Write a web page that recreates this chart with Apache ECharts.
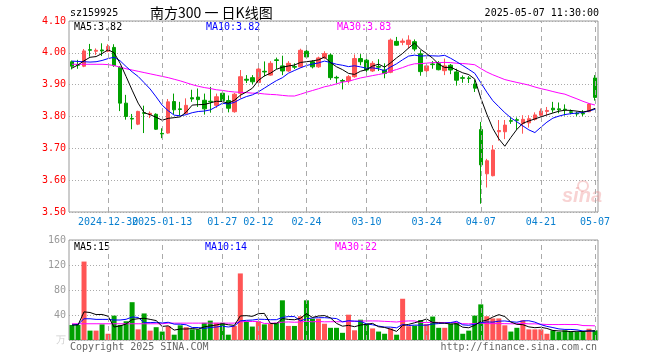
<!DOCTYPE html>
<html><head><meta charset="utf-8">
<script src="https://cdn.jsdelivr.net/npm/echarts@6/dist/echarts.min.js"></script>
<style>html,body{margin:0;padding:0;background:#fff}#c{width:660px;height:360px}</style>
</head><body><div id="c"></div>
<script>
const dates = ['2024-12-20','2024-12-23','2024-12-24','2024-12-25','2024-12-26','2024-12-27','2024-12-30','2024-12-31','2025-01-02','2025-01-03','2025-01-06','2025-01-07','2025-01-08','2025-01-09','2025-01-10','2025-01-13','2025-01-14','2025-01-15','2025-01-16','2025-01-17','2025-01-20','2025-01-21','2025-01-22','2025-01-23','2025-01-24','2025-01-27','2025-02-05','2025-02-06','2025-02-07','2025-02-10','2025-02-11','2025-02-12','2025-02-13','2025-02-14','2025-02-17','2025-02-18','2025-02-19','2025-02-20','2025-02-21','2025-02-24','2025-02-25','2025-02-26','2025-02-27','2025-02-28','2025-03-03','2025-03-04','2025-03-05','2025-03-06','2025-03-07','2025-03-10','2025-03-11','2025-03-12','2025-03-13','2025-03-14','2025-03-17','2025-03-18','2025-03-19','2025-03-20','2025-03-21','2025-03-24','2025-03-25','2025-03-26','2025-03-27','2025-03-28','2025-03-31','2025-04-01','2025-04-02','2025-04-03','2025-04-07','2025-04-08','2025-04-09','2025-04-10','2025-04-11','2025-04-14','2025-04-15','2025-04-16','2025-04-17','2025-04-18','2025-04-21','2025-04-22','2025-04-23','2025-04-24','2025-04-25','2025-04-28','2025-04-29','2025-04-30','2025-05-06','2025-05-07'];
const openP  = [3.972,3.963,3.958,4.010,4.005,4.009,4.005,4.017,3.955,3.842,3.794,3.776,3.812,3.806,3.807,3.747,3.748,3.847,3.824,3.810,3.859,3.861,3.851,3.848,3.835,3.873,3.850,3.815,3.873,3.917,3.922,3.907,3.942,3.930,3.978,3.959,3.943,3.957,3.956,4.005,3.972,3.956,3.984,3.993,3.923,3.913,3.912,3.925,3.982,3.977,3.943,3.957,3.946,3.939,4.036,4.033,4.026,4.035,3.997,3.944,3.965,3.966,3.944,3.961,3.940,3.922,3.921,3.902,3.759,3.620,3.614,3.752,3.752,3.787,3.790,3.778,3.780,3.791,3.804,3.816,3.826,3.824,3.823,3.815,3.810,3.810,3.815,3.921];
const closeP = [3.958,3.961,4.006,4.008,4.008,4.006,4.020,3.960,3.842,3.800,3.792,3.816,3.810,3.810,3.760,3.745,3.846,3.821,3.822,3.835,3.855,3.853,3.824,3.846,3.862,3.850,3.826,3.870,3.925,3.914,3.909,3.949,3.940,3.967,3.976,3.943,3.967,3.955,4.008,3.987,3.956,3.984,3.998,3.922,3.921,3.911,3.925,3.982,3.972,3.946,3.967,3.955,3.935,4.040,4.024,4.037,4.040,4.012,3.941,3.959,3.963,3.947,3.959,3.946,3.914,3.920,3.919,3.889,3.648,3.661,3.695,3.756,3.773,3.785,3.788,3.791,3.793,3.805,3.817,3.819,3.821,3.821,3.821,3.813,3.808,3.808,3.839,3.860];
const lowP   = [3.948,3.950,3.955,3.988,3.993,3.990,4.002,3.956,3.817,3.790,3.760,3.773,3.748,3.795,3.758,3.732,3.746,3.807,3.803,3.808,3.846,3.830,3.806,3.812,3.827,3.838,3.813,3.812,3.857,3.905,3.901,3.894,3.926,3.928,3.949,3.930,3.940,3.949,3.953,3.982,3.951,3.953,3.980,3.915,3.904,3.885,3.904,3.922,3.961,3.940,3.940,3.943,3.920,3.936,4.022,4.024,4.013,4.005,3.928,3.935,3.950,3.945,3.930,3.933,3.897,3.906,3.905,3.877,3.526,3.577,3.612,3.724,3.729,3.777,3.758,3.746,3.765,3.787,3.802,3.803,3.812,3.810,3.803,3.807,3.801,3.801,3.814,3.850];
const highP  = [3.976,3.978,4.012,4.028,4.014,4.030,4.027,4.027,3.958,3.868,3.808,3.818,3.834,3.816,3.810,3.763,3.855,3.872,3.846,3.857,3.884,3.888,3.872,3.893,3.872,3.880,3.866,3.874,3.946,3.930,3.930,3.957,3.973,3.974,3.985,3.991,3.974,3.967,4.013,4.019,3.977,3.988,4.005,3.998,3.928,3.918,3.930,3.995,3.996,3.982,3.974,3.980,3.967,4.045,4.050,4.045,4.055,4.042,4.008,3.968,3.974,3.974,3.982,3.965,3.950,3.929,3.927,3.915,3.783,3.667,3.710,3.789,3.789,3.797,3.797,3.804,3.804,3.813,3.825,3.830,3.846,3.844,3.838,3.822,3.815,3.820,3.842,3.930];
const volume = [24,24,125.5,15,15,25,10,39,24,30,60.5,17,42.5,15,20.5,13.5,22,8.5,23.5,20.5,17,17,27.5,31,27.5,27.5,8.5,22.5,106.5,30,21.5,30,25,26,27.5,63.5,22.5,22.5,38,63.5,34,34,26,19.5,19.5,11.5,40.5,15.5,32.5,26,18.5,13.5,10,18.5,8.5,66,22,23,32,25.5,37.5,19.5,19.5,26,27.5,10,15,39,57,38,34.5,34.5,23.5,13.5,19.5,31.5,17,17,17,10,15.5,13,15.5,13,13,13,18,15.5];
// moving-average values before enough history is visible
const priceMa5Head  = [3.952,3.962,3.975,3.986];
const priceMa10Head = [3.974,3.973,3.972,3.971,3.972,3.976,3.982,3.986,3.975];
const priceMa30Head = [3.964,3.964,3.964,3.964,3.964,3.964,3.963,3.960,3.955,3.950,3.946,3.942,3.938,3.934,3.930,3.926,3.922,3.917,3.912,3.906,3.900,3.895,3.891,3.888,3.884,3.882,3.879,3.877,3.876];
const volMa5Head  = [24,24,45,44];
const volMa10Head = [24,25,34,34,33,33,33,32,32];
const volMa30Head = [26,26,26,26,26,26,26,26,26,26,26,26,26,26,26,26,27,27,27,27,27,27,27,27,27,27,27,27,29];
const tickIdx  = [6,15,25,31,39,49,59,68,78,87];
const tickText = ['2024-12-30','2025-01-13','01-27','02-12','02-24','03-10','03-24','04-07','04-21','05-07'];
const priceTicks = {min:3.5, max:4.1, step:0.1};
const volTicks = {min:0, max:160, step:40};

function ma(vals, n, head){
  return vals.map((v,i)=> i < n-1 ? head[i] : +(vals.slice(i-n+1,i+1).reduce((a,b)=>a+b,0)/n).toFixed(4));
}
const UP='#FF5555', DOWN='#00A000';
const MONO='"DejaVu Sans Mono", monospace';
const kData = dates.map((d,i)=>[openP[i],closeP[i],lowP[i],highP[i]]);
const volData = volume.map((v,i)=>({value:v,itemStyle:{color: closeP[i]>=openP[i]?UP:DOWN}}));
const vlines = tickIdx.map(i=>({xAxis:dates[i]}));
const gridLineStyle = {color:'#aaaaaa', type:[5,4], width:1};
// split tick labels into two alternating groups so overlapping neighbours are both drawn
const groupA = tickIdx.filter((_,k)=>k%2===0), groupB = tickIdx.filter((_,k)=>k%2===1);

const chart = echarts.init(document.getElementById('c'), null, {renderer:'canvas'});
const xBase = {
  type:'category', data:dates, boundaryGap:true,
  axisLine:{show:false}, axisTick:{show:false}, splitLine:{show:false}
};
const labelAxis = (group)=>Object.assign({}, xBase, {gridIndex:0, position:'bottom', offset:0, axisLabel:{
      interval:(i)=>group.indexOf(i)>=0,
      formatter:(v,i)=>tickText[tickIdx.indexOf(i)],
      color:'#0A80D0', fontFamily:MONO, fontSize:10, margin:5, hideOverlap:false}});
const txt = (x,y,s,color,opts)=>Object.assign({type:'text', x:x, y:y, silent:true,
  style:Object.assign({text:s, fill:color, font:'10px '+MONO, textVerticalAlign:'middle'}, opts||{})});
chart.setOption({
  animation:false,
  backgroundColor:'#fff',
  grid:[
    {left:69, right:62, top:21, height:191, show:true, borderColor:'#999', borderWidth:1, backgroundColor:'transparent'},
    {left:69, right:62, top:240, height:100, show:true, borderColor:'#999', borderWidth:1, backgroundColor:'transparent'}
  ],
  xAxis:[
    labelAxis(groupB),
    Object.assign({}, xBase, {gridIndex:1, axisLabel:{show:false}}),
    labelAxis(groupA)
  ],
  yAxis:[
    {type:'value', gridIndex:0, min:priceTicks.min, max:priceTicks.max, interval:priceTicks.step,
     axisLine:{show:false}, axisTick:{show:false},
     axisLabel:{formatter:v=>v.toFixed(2), color:'#FF0000', fontFamily:MONO, fontSize:10, margin:3},
     splitLine:{show:true, lineStyle:{color:'#aaa', type:[1,2]}}},
    {type:'value', gridIndex:1, min:volTicks.min, max:volTicks.max, interval:volTicks.step,
     axisLine:{show:false}, axisTick:{show:false},
     axisLabel:{formatter:v=>v===0?'万':String(v), color:(v)=>(+v===0?'#d0d0d0':'#999'), fontFamily:MONO, fontSize:10, margin:3},
     splitLine:{show:true, lineStyle:{color:'#aaa', type:[1,2]}}}
  ],
  series:[
    {type:'line', xAxisIndex:0, yAxisIndex:0, data:[], z:1, silent:true,
     markLine:{silent:true, symbol:'none', label:{show:false}, lineStyle:gridLineStyle, data:vlines, animation:false}},
    {type:'line', xAxisIndex:1, yAxisIndex:1, data:[], z:1, silent:true,
     markLine:{silent:true, symbol:'none', label:{show:false}, lineStyle:gridLineStyle, data:vlines, animation:false}},
    {type:'candlestick', xAxisIndex:0, yAxisIndex:0, data:kData, barWidth:4, z:3,
     itemStyle:{color:UP, color0:DOWN, borderColor:UP, borderColor0:DOWN, borderWidth:1}},
    {type:'line', xAxisIndex:0, yAxisIndex:0, data:ma(closeP,30,priceMa30Head), symbol:'none', z:4, lineStyle:{color:'#FF00FF', width:1}},
    {type:'line', xAxisIndex:0, yAxisIndex:0, data:ma(closeP,10,priceMa10Head), symbol:'none', z:4, lineStyle:{color:'#0000FF', width:1}},
    {type:'line', xAxisIndex:0, yAxisIndex:0, data:ma(closeP,5,priceMa5Head), symbol:'none', z:4, lineStyle:{color:'#000000', width:1}},
    {type:'bar', xAxisIndex:1, yAxisIndex:1, data:volData, barWidth:5, z:3},
    {type:'line', xAxisIndex:1, yAxisIndex:1, data:ma(volume,30,volMa30Head), symbol:'none', z:4, lineStyle:{color:'#FF00FF', width:1}},
    {type:'line', xAxisIndex:1, yAxisIndex:1, data:ma(volume,10,volMa10Head), symbol:'none', z:4, lineStyle:{color:'#0000FF', width:1}},
    {type:'line', xAxisIndex:1, yAxisIndex:1, data:ma(volume,5,volMa5Head), symbol:'none', z:4, lineStyle:{color:'#000000', width:1}}
  ],
  graphic:[
    txt(70,13,'sz159925','#000'),
    {type:'text', x:150, y:13, silent:true, style:{text:'南方300 一 日K线图', fill:'#000', font:'14px "Noto Sans CJK SC"', textVerticalAlign:'middle'}},
    txt(599,13,'2025-05-07 11:30:00','#000',{textAlign:'right'}),
    txt(74,27,'MA5:3.82','#000'),
    txt(206,27,'MA10:3.82','#0000FF'),
    txt(337,27,'MA30:3.83','#FF00FF'),
    txt(74,247,'MA5:15','#000'),
    txt(205,247,'MA10:14','#0000FF'),
    txt(335,247,'MA30:22','#FF00FF'),
    txt(70,347,'Copyright 2025 SINA.COM','#666'),
    txt(597,347,'http://finance.sina.com.cn','#666',{textAlign:'right'}),
    {type:'text', x:562, y:196, silent:true, z:0, style:{text:'sina', fill:'rgba(235,130,130,0.35)', font:'italic bold 20px "Liberation Sans"', textVerticalAlign:'middle'}},
    {type:'circle', silent:true, z:0, shape:{cx:583, cy:186, r:5}, style:{fill:'none', stroke:'rgba(235,130,130,0.35)', lineWidth:2}}
  ]
});
</script></body></html>
